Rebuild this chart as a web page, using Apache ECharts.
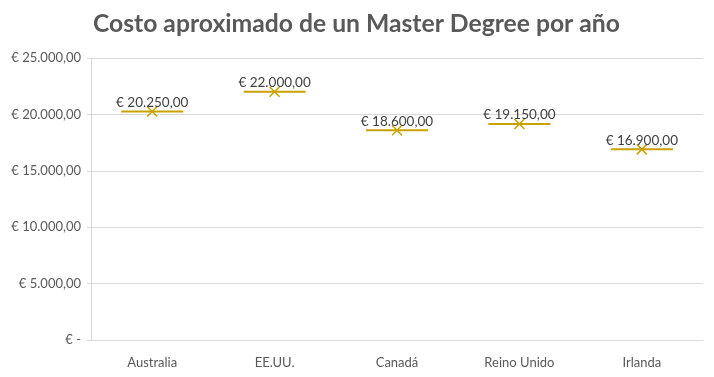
<!DOCTYPE html>
<html><head><meta charset="utf-8">
<script src="https://cdn.jsdelivr.net/npm/echarts@6/dist/echarts.min.js"></script>
<style>html,body{margin:0;padding:0;background:#fff}#c{width:714px;height:377px}</style>
</head><body><div id="c"></div>
<script>
const titleText = 'Costo aproximado de un Master Degree por año';
const categories = ['Australia', 'EE.UU.', 'Canadá', 'Reino Unido', 'Irlanda'];
const costs = [20250, 22000, 18600, 19150, 16900];
const yMin = 0, yMax = 25000, yStep = 5000;

function fmtEuro(v) {
  if (v === 0) return '€ -';
  const s = Math.round(v).toString().replace(/\B(?=(\d{3})+(?!\d))/g, '.');
  return '€ ' + s + ',00';
}
const gold = '#C9A100';
const chart = echarts.init(document.getElementById('c'));
chart.setOption({
  animation: false,
  title: { text: titleText, left: 88, top: 7,
    textStyle: { fontFamily: 'Lato', fontWeight: 'bold', fontSize: 24.7, color: '#595959' } },
  grid: { left: 91, right: 11, top: 58, bottom: 37, containLabel: false },
  xAxis: { type: 'category', data: categories,
    axisLine: { lineStyle: { color: '#D9D9D9' } }, axisTick: { show: false },
    axisLabel: { color: '#595959', fontFamily: 'Lato', fontSize: 13, margin: 16 } },
  yAxis: { type: 'value', min: yMin, max: yMax, interval: yStep,
    axisLine: { show: true, lineStyle: { color: '#D9D9D9' } },
    axisTick: { show: true, length: 4, lineStyle: { color: '#D9D9D9' } },
    splitLine: { lineStyle: { color: '#D9D9D9' } },
    axisLabel: { color: '#595959', fontFamily: 'Lato', fontSize: 13, margin: 10, formatter: fmtEuro } },
  series: [{
    type: 'custom',
    data: costs.map((v, i) => [i, v]),
    renderItem: function (params, api) {
      const p = api.coord([api.value(0), api.value(1)]);
      const half = 31, s = 5;
      return { type: 'group', children: [
        { type: 'line', shape: { x1: p[0] - half, y1: p[1], x2: p[0] + half, y2: p[1] },
          style: { stroke: gold, lineWidth: 2 } },
        { type: 'line', shape: { x1: p[0] - s, y1: p[1] - s, x2: p[0] + s, y2: p[1] + s },
          style: { stroke: gold, lineWidth: 1.5 } },
        { type: 'line', shape: { x1: p[0] - s, y1: p[1] + s, x2: p[0] + s, y2: p[1] - s },
          style: { stroke: gold, lineWidth: 1.5 } },
        { type: 'text', x: p[0], y: p[1] - 9,
          style: { text: fmtEuro(api.value(1)), textAlign: 'center', textVerticalAlign: 'middle',
            fill: '#404040', font: '13.5px Lato' } }
      ]};
    }
  }]
});
</script></body></html>
